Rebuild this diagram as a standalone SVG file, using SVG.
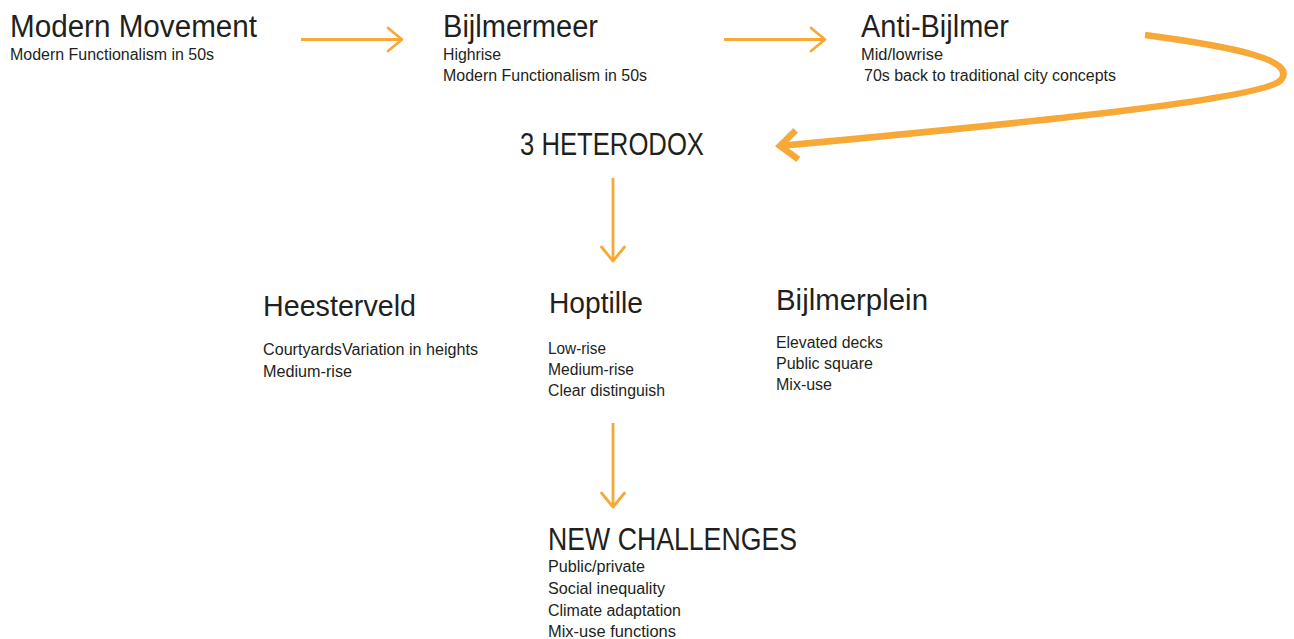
<svg xmlns="http://www.w3.org/2000/svg" width="1294" height="639" viewBox="0 0 1294 639">
  <style>
    text { font-family: "Liberation Sans Narrow", "Liberation Sans", Arial, sans-serif; fill: #231f20; }
    .h { font-size: 31px; }
    .h2 { font-size: 29px; }
    .s { font-size: 16px; }
    .ln { stroke: #f7a937; fill: none; stroke-width: 2.8; }
    .big { stroke: #f7a937; fill: none; stroke-width: 6.5; }
  </style>
  <defs>
    <marker id="chev" markerUnits="userSpaceOnUse" viewBox="-18 -14 22 28" refX="0" refY="0" markerWidth="22" markerHeight="28" orient="auto" overflow="visible">
      <path d="M-14,-11.5 L0,0 L-14,11.5" fill="none" stroke="#f7a937" stroke-width="2.8" stroke-linecap="round" stroke-linejoin="round"/>
    </marker>
    <marker id="chevBig" markerUnits="userSpaceOnUse" viewBox="-25 -20 30 40" refX="0" refY="0" markerWidth="30" markerHeight="40" orient="auto" overflow="visible">
      <path d="M-18,-15 L-1,0 L-18,14" fill="none" stroke="#f7a937" stroke-width="6.5" stroke-linejoin="miter"/>
    </marker>
  </defs>

  <g id="connectors">
    <line class="ln" x1="301" y1="39.5" x2="402" y2="39.5" marker-end="url(#chev)"/>
    <line class="ln" x1="724" y1="39.5" x2="825" y2="39.5" marker-end="url(#chev)"/>
    <path class="big" d="M1145,35 C1235,47 1297,60 1281,80 C1265,98 1060,120 779,146" marker-end="url(#chevBig)"/>
    <line class="ln" x1="613" y1="178" x2="613" y2="261" marker-end="url(#chev)"/>
    <line class="ln" x1="613" y1="423" x2="613" y2="507" marker-end="url(#chev)"/>
  </g>

  <g id="modern-movement">
    <text class="h" x="10" y="37" textLength="247" lengthAdjust="spacingAndGlyphs">Modern Movement</text>
    <text class="s" x="10" y="60" textLength="204" lengthAdjust="spacingAndGlyphs">Modern Functionalism in 50s</text>
  </g>

  <g id="bijlmermeer">
    <text class="h" x="443" y="37" textLength="155" lengthAdjust="spacingAndGlyphs">Bijlmermeer</text>
    <text class="s" x="443" y="60" textLength="58" lengthAdjust="spacingAndGlyphs">Highrise</text>
    <text class="s" x="443" y="81" textLength="204" lengthAdjust="spacingAndGlyphs">Modern Functionalism in 50s</text>
  </g>

  <g id="anti-bijlmer">
    <text class="h" x="861" y="37" textLength="148" lengthAdjust="spacingAndGlyphs">Anti-Bijlmer</text>
    <text class="s" x="861" y="60" textLength="82" lengthAdjust="spacingAndGlyphs">Mid/lowrise</text>
    <text class="s" x="864" y="81" textLength="252" lengthAdjust="spacingAndGlyphs">70s back to traditional city concepts</text>
  </g>

  <g id="heterodox">
    <text class="h" x="520" y="155" textLength="184" lengthAdjust="spacingAndGlyphs">3 HETERODOX</text>
  </g>

  <g id="heesterveld">
    <text class="h2" x="263" y="316" textLength="153" lengthAdjust="spacingAndGlyphs">Heesterveld</text>
    <text class="s" x="263" y="355" textLength="215" lengthAdjust="spacingAndGlyphs">CourtyardsVariation in heights</text>
    <text class="s" x="263" y="377" textLength="89" lengthAdjust="spacingAndGlyphs">Medium-rise</text>
  </g>

  <g id="hoptille">
    <text class="h2" x="549" y="313" textLength="94" lengthAdjust="spacingAndGlyphs">Hoptille</text>
    <text class="s" x="548" y="354" textLength="58" lengthAdjust="spacingAndGlyphs">Low-rise</text>
    <text class="s" x="548" y="375" textLength="86" lengthAdjust="spacingAndGlyphs">Medium-rise</text>
    <text class="s" x="548" y="396" textLength="117" lengthAdjust="spacingAndGlyphs">Clear distinguish</text>
  </g>

  <g id="bijlmerplein">
    <text class="h2" x="776" y="310" textLength="152" lengthAdjust="spacingAndGlyphs">Bijlmerplein</text>
    <text class="s" x="776" y="348" textLength="107" lengthAdjust="spacingAndGlyphs">Elevated decks</text>
    <text class="s" x="776" y="369" textLength="97" lengthAdjust="spacingAndGlyphs">Public square</text>
    <text class="s" x="776" y="390" textLength="56" lengthAdjust="spacingAndGlyphs">Mix-use</text>
  </g>

  <g id="new-challenges">
    <text class="h" x="548" y="550" textLength="249" lengthAdjust="spacingAndGlyphs">NEW CHALLENGES</text>
    <text class="s" x="548" y="572" textLength="97" lengthAdjust="spacingAndGlyphs">Public/private</text>
    <text class="s" x="548" y="594" textLength="117" lengthAdjust="spacingAndGlyphs">Social inequality</text>
    <text class="s" x="548" y="616" textLength="133" lengthAdjust="spacingAndGlyphs">Climate adaptation</text>
    <text class="s" x="548" y="637" textLength="128" lengthAdjust="spacingAndGlyphs">Mix-use functions</text>
  </g>
</svg>
